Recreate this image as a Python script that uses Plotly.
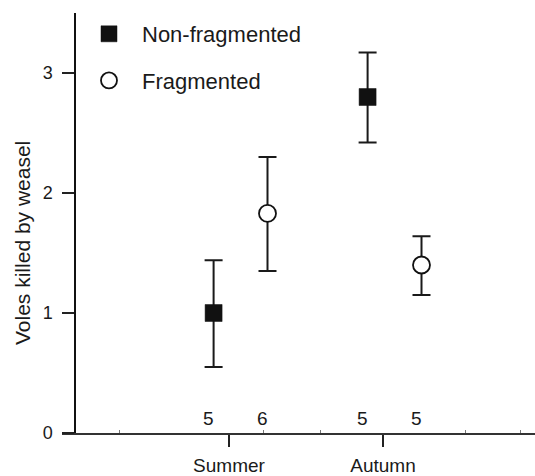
import plotly.graph_objects as go

# ---- data ----
seasons = ["Summer", "Autumn"]
season_pos = [1, 2]
nonfrag_mean = [1.00, 2.80]
nonfrag_upper = [1.44, 3.17]
nonfrag_lower = [0.55, 2.42]
frag_mean = [1.83, 1.40]
frag_upper = [2.30, 1.64]
frag_lower = [1.35, 1.15]
n_nonfrag = [5, 5]
n_frag = [6, 5]

y_ticks = [0, 1, 2, 3]
y_title = "Voles killed by weasel"
minor_x_ticks = [0.286, 1.221, 1.591, 2.533, 2.896]

# ---- style ----
OFF_NF = -0.10
OFF_F = 0.25
FONT = "Liberation Sans, Arial, Helvetica, sans-serif"
TXT = "#1a1a1a"

x_nf = [p + OFF_NF for p in season_pos]
x_f = [p + OFF_F for p in season_pos]

fig = go.Figure()

fig.add_trace(go.Scatter(
    x=x_nf, y=nonfrag_mean, mode="markers", name="Non-fragmented",
    legendgroup="a",
    marker=dict(symbol="square", size=17, color="#111111",
                line=dict(color="#111111", width=0.5)),
    error_y=dict(type="data", symmetric=False,
                 array=[u - m for u, m in zip(nonfrag_upper, nonfrag_mean)],
                 arrayminus=[m - l for m, l in zip(nonfrag_mean, nonfrag_lower)],
                 color="#1a1a1a", thickness=2, width=9),
))
fig.add_trace(go.Scatter(
    x=x_f, y=frag_mean, mode="markers", name="Fragmented",
    legendgroup="b",
    marker=dict(symbol="circle", size=17, color="white",
                line=dict(color="#111111", width=1.8)),
    error_y=dict(type="data", symmetric=False,
                 array=[u - m for u, m in zip(frag_upper, frag_mean)],
                 arrayminus=[m - l for m, l in zip(frag_mean, frag_lower)],
                 color="#1a1a1a", thickness=2, width=9),
))

# sample sizes
for xs, ns in ((x_nf, n_nonfrag), (x_f, n_frag)):
    for xv, nv in zip(xs, ns):
        fig.add_annotation(x=xv, y=0.125, text=str(nv), showarrow=False,
                           xshift=-5, yanchor="middle",
                           font=dict(family=FONT, size=19, color=TXT))

# y-axis title (placed slightly below axis centre, as in the original)
fig.add_annotation(xref="paper", yref="paper", x=(22 - 62) / 473,
                   y=(433 - 243) / 420, text=y_title, textangle=-90,
                   showarrow=False, xanchor="center", yanchor="middle",
                   font=dict(family=FONT, size=21, color=TXT))

# minor ticks overlay axis
fig.add_trace(go.Scatter(x=[None], y=[None], xaxis="x2", showlegend=False,
                         hoverinfo="skip"))

fig.update_layout(
    width=535, height=476,
    margin=dict(l=62, r=0, t=13, b=43),
    paper_bgcolor="white", plot_bgcolor="white",
    font=dict(family=FONT, color=TXT),
    xaxis=dict(range=[-0.0844, 2.987], tickvals=season_pos, ticktext=seasons,
               showgrid=False, zeroline=False, showline=True,
               linecolor="#333333", linewidth=2,
               ticks="outside", ticklen=12, tickwidth=1.5, tickcolor="#222222",
               ticklabelstandoff=2,
               tickfont=dict(family=FONT, size=19, color=TXT),
               automargin=False),
    xaxis2=dict(range=[-0.0844, 2.987], overlaying="x", anchor="y",
                tickvals=minor_x_ticks, ticks="inside", ticklen=3,
                tickwidth=1, tickcolor="#777777", showticklabels=False,
                showgrid=False, zeroline=False, showline=False,
                side="bottom", automargin=False),
    yaxis=dict(range=[0, 3.5], tickvals=y_ticks,
               anchor="free", position=13 / 473,
               showgrid=False, zeroline=False, showline=True,
               linecolor="#111111", linewidth=1.5,
               ticks="outside", ticklen=12, tickwidth=1.5, tickcolor="#222222",
               ticklabelstandoff=6,
               tickfont=dict(family=FONT, size=18, color=TXT),
               automargin=False),
    legend=dict(x=(76 - 62) / 473, y=1.0, xanchor="left", yanchor="top",
                font=dict(family=FONT, size=22, color=TXT),
                itemwidth=56, tracegroupgap=15, bgcolor="rgba(0,0,0,0)",
                borderwidth=0),
    showlegend=True,
)

fig.write_html("out.html", config={"displayModeBar": False},
               post_script="document.body.style.margin='0px';document.body.style.overflow='hidden';")
